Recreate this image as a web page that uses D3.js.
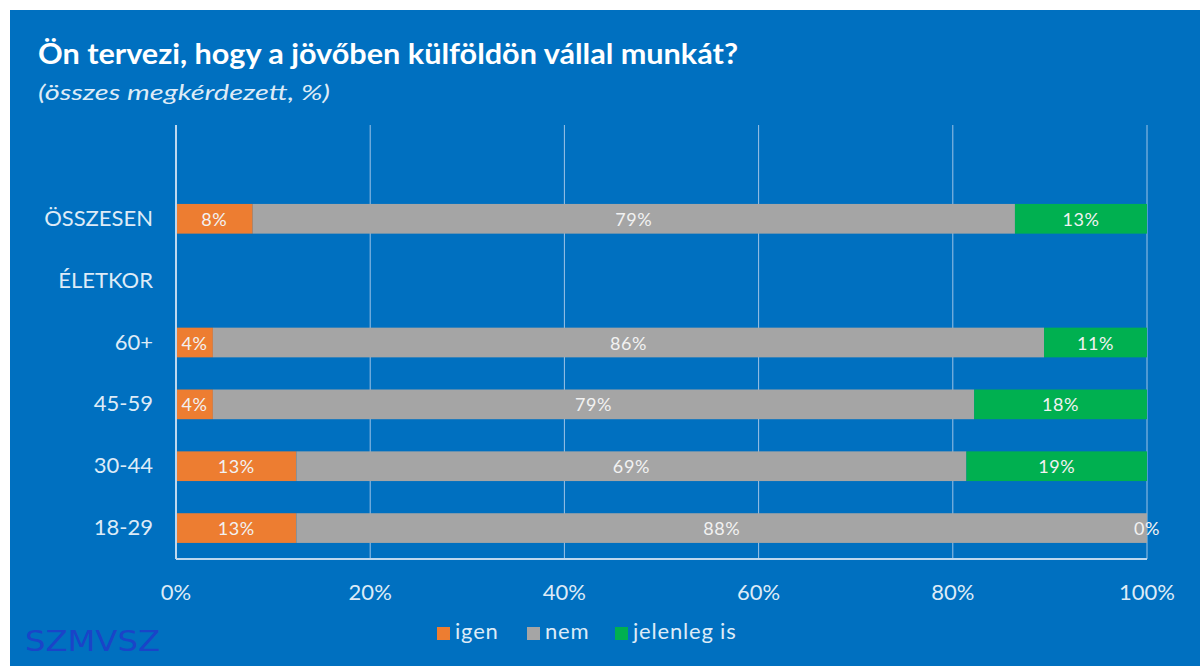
<!DOCTYPE html>
<html>
<head>
<meta charset="utf-8">
<script src="https://cdn.jsdelivr.net/npm/d3@7"></script>
<style>
body { margin: 0; background: #fff; }
svg { display: block; }
</style>
</head>
<body>
<svg width="1200" height="666"></svg>
<script>
// categories top to bottom, first row is an empty spacer row
var categories = ['', 'ÖSSZESEN', 'ÉLETKOR', '60+', '45-59', '30-44', '18-29'];
var igen = [null, 7.9, null, 3.8, 3.8, 12.4, 12.4];
var nem = [null, 78.5, null, 85.6, 78.4, 69.0, 87.6];
var jelenleg = [null, 13.6, null, 10.6, 17.8, 18.6, 0];
var igenLabels = [null, '8%', null, '4%', '4%', '13%', '13%'];
var nemLabels = [null, '79%', null, '86%', '79%', '69%', '88%'];
var jelenlegLabels = [null, '13%', null, '11%', '18%', '19%', '0%'];
var ticks = [0, 20, 40, 60, 80, 100];
var seriesNames = ['igen', 'nem', 'jelenleg is'];
var colors = ['#ED7D31', '#A5A5A5', '#00B050'];

var svg = d3.select('svg');
var font = 'Lato, "Open Sans", sans-serif';
var textCol = '#DDEBF7';

svg.append('rect').attr('x', 10).attr('y', 10).attr('width', 1190).attr('height', 656).attr('fill', '#0070C0');

svg.append('text').attr('x', 38).attr('y', 64)
	.attr('fill', '#fff').attr('font-family', font).attr('font-weight', 'bold').attr('font-size', 29)
	.attr('textLength', 700).attr('lengthAdjust', 'spacingAndGlyphs')
	.text('Ön tervezi, hogy a jövőben külföldön vállal munkát?');
svg.append('text').attr('x', 38).attr('y', 100)
	.attr('fill', textCol).attr('font-family', font).attr('font-style', 'italic').attr('font-size', 21)
	.attr('textLength', 292).attr('lengthAdjust', 'spacingAndGlyphs')
	.text('(összes megkérdezett, %)');

var xscale = d3.scaleLinear().domain([0, 100]).range([176, 1147]);
var yscale = d3.scaleBand().domain(categories).range([126, 559]).paddingInner(0.52).paddingOuter(0.26);

// gridlines
svg.append('g').selectAll('line').data(ticks.slice(1)).enter().append('line')
	.attr('x1', d => xscale(d)).attr('x2', d => xscale(d))
	.attr('y1', 125).attr('y2', 559)
	.attr('stroke', '#9DC3E6').attr('stroke-width', 1);

var rows = categories.map((c, i) => ({cat: c, vals: [igen[i], nem[i], jelenleg[i]], labels: [igenLabels[i], nemLabels[i], jelenlegLabels[i]]}))
	.filter(r => r.vals[0] !== null);

rows.forEach(r => {
	var x0 = 0;
	r.vals.forEach((v, k) => {
		svg.append('rect')
			.attr('x', xscale(x0)).attr('y', yscale(r.cat))
			.attr('width', xscale(x0 + v) - xscale(x0)).attr('height', yscale.bandwidth())
			.attr('fill', colors[k]);
		svg.append('text')
			.attr('x', xscale(x0 + v / 2)).attr('y', yscale(r.cat) + yscale.bandwidth() / 2 + 7)
			.attr('text-anchor', 'middle').attr('fill', '#F2F2F2')
			.attr('font-family', font).attr('font-size', 18).attr('letter-spacing', 0.6)
			.text(r.labels[k]);
		x0 += v;
	});
});

// axis lines
svg.append('line').attr('x1', 176).attr('x2', 176).attr('y1', 125).attr('y2', 559)
	.attr('stroke', '#BDD7EE').attr('stroke-width', 2);
svg.append('line').attr('x1', 176).attr('x2', 1147).attr('y1', 559).attr('y2', 559)
	.attr('stroke', '#BDD7EE').attr('stroke-width', 2);

// category labels
svg.append('g').selectAll('text').data(categories.filter(c => c !== '')).enter().append('text')
	.attr('x', 153).attr('y', d => yscale(d) + yscale.bandwidth() / 2 + 7)
	.attr('text-anchor', 'end').attr('fill', textCol)
	.attr('font-family', font).attr('font-size', 22)
	.text(d => d);

// x tick labels
svg.append('g').selectAll('text').data(ticks).enter().append('text')
	.attr('x', d => xscale(d)).attr('y', 600)
	.attr('text-anchor', 'middle').attr('fill', textCol)
	.attr('font-family', font).attr('font-size', 22)
	.text(d => d + '%');

// legend
var legendX = [437, 527, 615];
seriesNames.forEach((s, k) => {
	svg.append('rect').attr('x', legendX[k]).attr('y', 627).attr('width', 13).attr('height', 13).attr('fill', colors[k]);
	svg.append('text').attr('x', legendX[k] + 18).attr('y', 639)
		.attr('fill', textCol).attr('font-family', font).attr('font-size', 22).attr('letter-spacing', 0.8)
		.text(s);
});

// logo
svg.append('text').attr('x', 25).attr('y', 651)
	.attr('fill', '#1A44C8').attr('font-family', '"DejaVu Sans", sans-serif').attr('font-size', 28)
	.attr('textLength', 135).attr('lengthAdjust', 'spacingAndGlyphs')
	.text('SZMVSZ');
</script>
</body>
</html>
